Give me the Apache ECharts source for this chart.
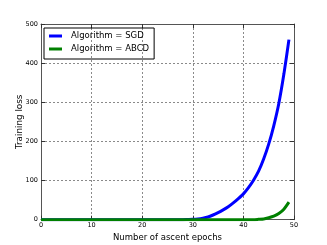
<!DOCTYPE html>
<html>
<head>
<meta charset="utf-8">
<script src="https://cdn.jsdelivr.net/npm/echarts@6/dist/echarts.min.js"></script>
<style>html,body{margin:0;padding:0;background:#fff}#c{width:327px;height:245px}</style>
</head>
<body>
<div id="c"></div>
<script>
var epochs = [];
for (var i = 0; i < 50; i++) epochs.push(i);
var sgdLoss = [0,0,0,0,0,0,0,0,0,0, 0,0,0,0,0,0,0,0,0,0, 0,0,0,0,0,0,0,0,0,0.5,
  1,2,4,7,12,18,25,33,43,54, 66,82,101,124,155,193,240,297,372,460];
var abcdLoss = [0,0,0,0,0,0,0,0,0,0, 0,0,0,0,0,0,0,0,0,0, 0,0,0,0,0,0,0,0,0,0,
  0,0,0,0,0,0,0,0,0,0, 0,0,0,1,2,5,9,16,27,45];
var xTicks = [0,10,20,30,40,50];
var yTicks = [0,100,200,300,400,500];
var seriesNames = ['Algorithm = SGD','Algorithm = ABCD'];

function pairs(xs, ys){ return xs.map(function(x,i){return [x, ys[i]];}); }

var font = 'DejaVu Sans';
var gridLine = {show:true, lineStyle:{color:'#8a8a8a', width:1, type:[2,2]}};
var spine = {show:true, onZero:false, lineStyle:{color:'#555', width:1}};
var tick = {show:true, inside:true, length:4, lineStyle:{color:'#333'}};

var chart = echarts.init(document.getElementById('c'));
chart.setOption({
  animation:false,
  backgroundColor:'#fff',
  grid:{left:41, right:33, top:24, bottom:25.3, containLabel:false, outerBoundsMode:'none'},
  legend:{
    orient:'vertical', left:44, top:28,
    data:seriesNames,
    icon:'rect', itemWidth:13, itemHeight:3, itemGap:3,
    padding:[3,5,5,5],
    borderColor:'#000', borderWidth:1,
    textStyle:{fontFamily:font, fontSize:8.5, color:'#000', lineHeight:10, padding:[0,0,0,4]}
  },
  xAxis:[{
    type:'value', min:0, max:50, interval:10, position:'bottom',
    name:'Number of ascent epochs', nameLocation:'middle', nameGap:11,
    nameTextStyle:{fontFamily:font, fontSize:8.5, color:'#000'},
    axisLine:spine, axisTick:tick, splitLine:gridLine,
    axisLabel:{fontFamily:font, fontSize:6.5, color:'#000', margin:2,
      formatter:function(v){return xTicks.indexOf(v)>=0 ? String(v) : '';}}
  },{
    type:'value', min:0, max:50, interval:10, position:'top',
    axisLine:spine, axisTick:tick, splitLine:{show:false}, axisLabel:{show:false}
  }],
  yAxis:[{
    type:'value', min:0, max:500, interval:100, position:'left',
    name:'Training loss', nameLocation:'middle', nameGap:16.5, nameMoveOverlap:false,
    nameTextStyle:{fontFamily:font, fontSize:8.8, color:'#000'},
    axisLine:spine, axisTick:tick, splitLine:gridLine,
    axisLabel:{fontFamily:font, fontSize:6.5, color:'#000', margin:3,
      formatter:function(v){return yTicks.indexOf(v)>=0 ? String(v) : '';}}
  },{
    type:'value', min:0, max:500, interval:100, position:'right',
    axisLine:spine, axisTick:tick, splitLine:{show:false}, axisLabel:{show:false}
  }],
  series:[{
    name:seriesNames[0], type:'line', data:pairs(epochs, sgdLoss),
    showSymbol:false, symbol:'none', color:'#0000ff', smooth:0.2,
    lineStyle:{color:'#0000ff', width:3}, clip:true
  },{
    name:seriesNames[1], type:'line', data:pairs(epochs, abcdLoss),
    showSymbol:false, symbol:'none', color:'#008000', smooth:0.2,
    lineStyle:{color:'#008000', width:3}, clip:true
  }]
});
</script>
</body>
</html>
